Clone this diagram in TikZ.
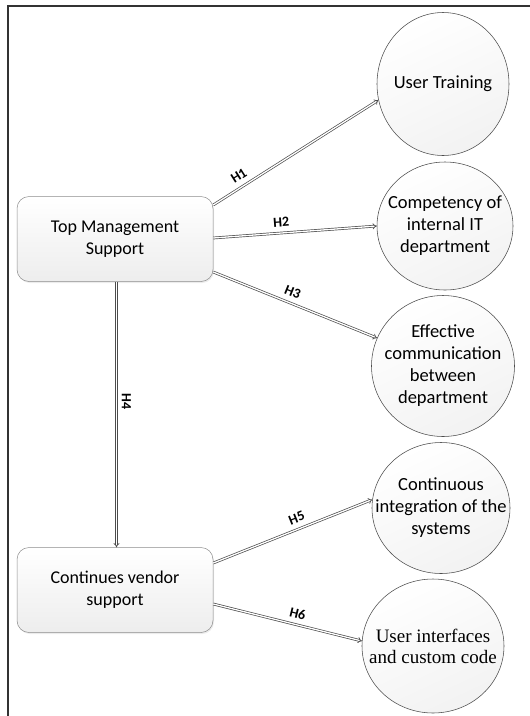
\documentclass[tikz,border=0pt]{standalone}
\usepackage{fontspec}
\setmainfont{Carlito}
\newfontfamily\serifface{Liberation Serif}
\usetikzlibrary{arrows.meta,shapes.geometric,shadows}

\tikzset{
  factor/.style={draw=black!45, line width=0.5pt, rounded corners=12pt,
    top color=white, bottom color=black!7,
    minimum width=196pt, minimum height=85pt, align=center,
    font=\fontsize{18}{22}\selectfont,
    drop shadow={opacity=0.15, shadow xshift=1pt, shadow yshift=-1.5pt}},
  outcome/.style={ellipse, draw=black!70, line width=0.55pt,
    top color=white, bottom color=black!5, shading angle=25,
    inner sep=-40pt, align=center,
    font=\fontsize{18.5}{22}\selectfont},
  conn/.style={draw=black!70, line width=0.7pt, double=white,
    double distance=1.3pt, -{Implies}},
  hyp/.style={font=\fontsize{14}{16}\selectfont\bfseries,
    inner sep=1pt, sloped, above=5pt}
}

\begin{document}
\begin{tikzpicture}[x=1pt,y=-1pt]
  \useasboundingbox (0,0) rectangle (530,716);

  % page frame (left and top edges)
  \draw[line width=1.8pt, black!80] (8,716) -- (8,6) -- (530,6);

  % independent factors
  \node[factor] (tms) at (115,239) {Top Management\\Support};
  \node[factor] (cvs) at (115,590) {Continues vendor\\support};

  % dependent outcomes
  \node[outcome, minimum width=132pt, minimum height=143pt] (ut) at (443,84) {User Training};
  \node[outcome, minimum width=136pt, minimum height=128pt] (cit) at (445,226) {Competency of\\internal IT\\department};
  \node[outcome, minimum width=143pt, minimum height=141pt] (ec) at (443,366) {Effective\\communication\\between\\department};
  \node[outcome, minimum width=138pt, minimum height=131pt] (ci) at (441,508) {Continuous\\integration of the\\systems};
  \node[outcome, minimum width=142pt, minimum height=134pt, font=\serifface\fontsize{19}{21}\selectfont] (ui) at (433,646) {User interfaces\\and custom code};

  % hypotheses
  \draw[conn] ([yshift=34pt]tms.east) -- (ut.194)
    node[hyp, pos=0.19] {H1};
  \draw[conn] ([yshift=1pt]tms.east) -- (cit.west)
    node[hyp, pos=0.42] {H2};
  \draw[conn] ([yshift=-33pt]tms.east) -- (ec.157)
    node[hyp, pos=0.46] {H3};
  \draw[conn] ([xshift=1.5pt]tms.south) -- ([xshift=1.5pt]cvs.north)
    node[font=\fontsize{14}{16}\selectfont\bfseries, pos=0.45,
         rotate=-90, anchor=south, inner sep=5pt] {H4};
  \draw[conn] ([yshift=27pt]cvs.east) -- (ci.173)
    node[hyp, pos=0.55] {H5};
  \draw[conn] ([yshift=-14pt]cvs.east) -- (ui.176)
    node[hyp, pos=0.55] {H6};
\end{tikzpicture}
\end{document}
